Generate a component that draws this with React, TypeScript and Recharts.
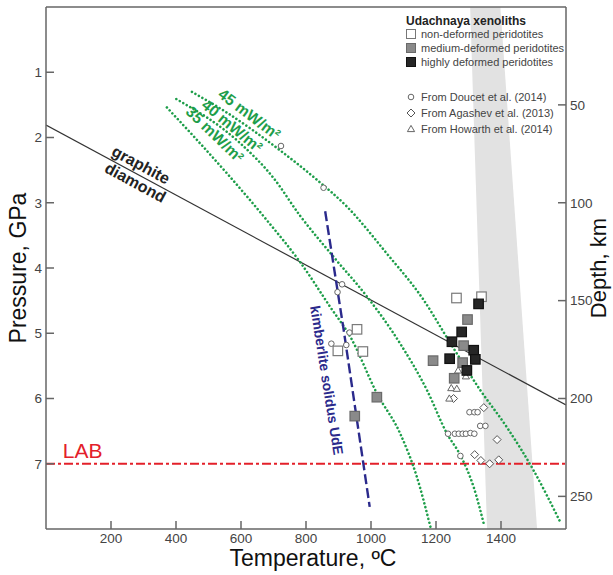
import React from "react";
import {
  ComposedChart,
  XAxis,
  YAxis,
  Line,
  Scatter,
  Area,
  ReferenceLine,
  ReferenceDot,
} from "recharts";

// axis ticks
const tempTicks = [200, 400, 600, 800, 1000, 1200, 1400];
const pressureTicks = [1, 2, 3, 4, 5, 6, 7];
const depthTicks = [50, 100, 150, 200, 250];

// geotherms: [T degC, P GPa]
const geo35: [number, number][] = [
  [372, 1.54], [557, 2.55], [680, 3.27], [782, 3.91], [875, 4.6],
  [937, 5.06], [1018, 5.92], [1090, 6.54], [1141, 7.2], [1183, 7.97],
];
const geo40: [number, number][] = [
  [401, 1.41], [598, 2.09], [700, 2.62], [782, 3.2], [885, 3.83],
  [988, 4.44], [1090, 5.16], [1172, 5.87], [1234, 6.54], [1275, 6.87],
  [1316, 7.36], [1347, 7.92],
];
const geo45: [number, number][] = [
  [449, 1.3], [557, 1.62], [721, 2.2], [834, 2.65], [926, 3.06],
  [1049, 3.78], [1162, 4.49], [1239, 5.11], [1336, 5.87], [1418, 6.44],
  [1500, 7.1], [1582, 7.89],
];
const graphiteDiamond: [number, number][] = [[0, 1.81], [1600, 6.1]];
const kimberliteSolidus: [number, number][] = [[859, 3.13], [916, 4.95], [996, 7.66]];

// grey band (T with pressure range)
const bandT = [1305, 1357, 1398, 1511];
const bandLow = [0, 0, 0, 8];
const bandHigh = [0, 8, 8, 8];

// Udachnaya xenoliths
const nonDeformed: [number, number][] = [
  [1263, 4.46], [1340, 4.44], [957, 4.94], [898, 5.27], [975, 5.28],
];
const mediumDeformed: [number, number][] = [
  [1297, 4.79], [1285, 5.19], [1191, 5.42], [1282, 5.45], [1256, 5.69],
  [1018, 5.98], [950, 6.27],
];
const highlyDeformed: [number, number][] = [
  [1331, 4.55], [1279, 4.98], [1249, 5.13], [1316, 5.26], [1242, 5.39],
  [1321, 5.4], [1295, 5.57],
];
const doucet: [number, number][] = [
  [723, 2.13], [854, 2.77], [911, 4.25], [897, 4.37], [934, 4.99],
  [878, 5.16], [924, 5.18],
  [1303, 6.21], [1318, 6.21], [1328, 6.21], [1336, 6.42], [1352, 6.42],
  [1237, 6.54], [1258, 6.54], [1270, 6.54], [1282, 6.54], [1292, 6.54],
  [1306, 6.53], [1318, 6.54], [1275, 6.88],
];
const agashev: [number, number][] = [
  [1254, 6.0], [1347, 6.14], [1388, 6.63], [1319, 6.86], [1338, 6.95],
  [1365, 7.0], [1393, 6.94],
];
const howarth: [number, number][] = [
  [1268, 5.57], [1292, 5.66], [1247, 5.84], [1264, 5.85], [1241, 6.0],
];

const toPts = (a: [number, number][]) => a.map(([t, p]) => ({ t, p }));
const bandData = bandT.map((t, i) => ({ t, band: [bandLow[i], bandHigh[i]] }));

const FONT = "'Liberation Sans', Arial, Helvetica, sans-serif";
const GREEN = "#1e9e4a";
const NAVY = "#2b2a8c";
const RED = "#e3202a";
const AXIS = "#666";

const square = (fill: string, stroke: string) => (p: any) => (
  <rect x={p.cx - 4.75} y={p.cy - 4.75} width={9.5} height={9.5} fill={fill} stroke={stroke} strokeWidth={1.2} />
);
const circle = (p: any) => <circle cx={p.cx} cy={p.cy} r={2.8} fill="#fff" stroke="#666" strokeWidth={1} />;
const diamond = (p: any) => (
  <polygon
    points={`${p.cx},${p.cy - 4} ${p.cx + 4},${p.cy} ${p.cx},${p.cy + 4} ${p.cx - 4},${p.cy}`}
    fill="#fff" stroke="#555" strokeWidth={1}
  />
);
const triangle = (p: any) => (
  <polygon
    points={`${p.cx},${p.cy - 3.6} ${p.cx + 3.6},${p.cy + 2.6} ${p.cx - 3.6},${p.cy + 2.6}`}
    fill="#fff" stroke="#666" strokeWidth={1}
  />
);

const rotText = (txt: React.ReactNode, angle: number, fill: string, size: number, weight = "bold") => (p: any) => (
  <text
    x={p.cx}
    y={p.cy}
    transform={`rotate(${angle} ${p.cx} ${p.cy})`}
    textAnchor="middle"
    dominantBaseline="central"
    fill={fill}
    fontSize={size}
    fontWeight={weight}
    fontFamily={FONT}
  >
    {txt}
  </text>
);

function LegendBox() {
  const sq = [
    { label: "non-deformed peridotites", fill: "#fff", stroke: "#777", y: 34 },
    { label: "medium-deformed peridotites", fill: "#8a8a8a", stroke: "#6a6a6a", y: 48 },
    { label: "highly deformed peridotites", fill: "#262626", stroke: "#111", y: 62 },
  ];
  const x0 = 411;
  return (
    <svg width={613} height={575} style={{ position: "absolute", left: 0, top: 0, pointerEvents: "none" }}>
      <text x={406} y={25} fontSize={12} fontWeight="bold" fill="#222" fontFamily={FONT}>
        Udachnaya xenoliths
      </text>
      {sq.map((s) => (
        <g key={s.label}>
          <rect x={x0 - 4.5} y={s.y - 4.5} width={9} height={9} fill={s.fill} stroke={s.stroke} strokeWidth={1} />
          <text x={421} y={s.y} dominantBaseline="central" fontSize={11} fill="#444" fontFamily={FONT}>
            {s.label}
          </text>
        </g>
      ))}
      {circle({ cx: x0, cy: 97 })}
      <text x={421} y={97} dominantBaseline="central" fontSize={11} fill="#444" fontFamily={FONT}>
        From Doucet et al. (2014)
      </text>
      {diamond({ cx: x0, cy: 113 })}
      <text x={421} y={113} dominantBaseline="central" fontSize={11} fill="#444" fontFamily={FONT}>
        From Agashev et al. (2013)
      </text>
      {triangle({ cx: x0, cy: 129 })}
      <text x={421} y={129} dominantBaseline="central" fontSize={11} fill="#444" fontFamily={FONT}>
        From Howarth et al. (2014)
      </text>
    </svg>
  );
}

export default function App() {
  const tickStyle = { fontSize: 13.5, fill: "#444", fontFamily: FONT };
  return (
    <div style={{ position: "absolute", left: 0, top: 0, width: 613, height: 575, background: "#fff" }}>
      <ComposedChart width={613} height={575} margin={{ top: 7, right: 0, bottom: 0, left: 0 }}>
        <XAxis
          type="number"
          dataKey="t"
          domain={[0, 1600]}
          ticks={tempTicks}
          allowDataOverflow
          height={46}
          tickSize={-8}
          tickMargin={12}
          stroke={AXIS}
          strokeWidth={1.5}
          tick={tickStyle}
          label={{ value: "Temperature, ºC", position: "center", dx: 7, dy: 6, fontSize: 23, fill: "#111", fontFamily: FONT }}
        />
        <YAxis
          type="number"
          dataKey="p"
          domain={[0, 8]}
          ticks={pressureTicks}
          reversed
          allowDataOverflow
          width={46}
          tickSize={-8}
          tickMargin={12}
          stroke={AXIS}
          strokeWidth={1.5}
          tick={tickStyle}
          label={{ value: "Pressure, GPa", angle: -90, position: "center", dx: -5, fontSize: 23, fill: "#111", fontFamily: FONT }}
        />
        <YAxis
          yAxisId="depth"
          orientation="right"
          type="number"
          domain={[0, 800 / 3]}
          ticks={depthTicks}
          reversed
          allowDataOverflow
          width={47}
          tickSize={-8}
          tickMargin={12}
          stroke={AXIS}
          strokeWidth={1.5}
          tick={tickStyle}
          label={{ value: "Depth, km", angle: -90, position: "center", dx: 9, fontSize: 22, fill: "#111", fontFamily: FONT }}
        />
        <ReferenceLine y={0} stroke={AXIS} strokeWidth={1.5} />

        <Area
          data={bandData}
          dataKey="band"
          type="linear"
          fill="#e2e2e2"
          fillOpacity={1}
          stroke="none"
          isAnimationActive={false}
        />

        <ReferenceLine y={7} stroke={RED} strokeWidth={2} strokeDasharray="9 3 3 3" />

        <Line data={toPts(graphiteDiamond)} dataKey="p" type="linear" stroke="#333" strokeWidth={1.2} dot={false} isAnimationActive={false} />
        {[geo35, geo40, geo45].map((g, i) => (
          <Line
            key={i}
            data={toPts(g)}
            dataKey="p"
            type="monotone"
            stroke={GREEN}
            strokeWidth={2.6}
            strokeDasharray="0.01 4"
            strokeLinecap="round"
            dot={false}
            isAnimationActive={false}
          />
        ))}
        <Line
          data={toPts(kimberliteSolidus)}
          dataKey="p"
          type="linear"
          stroke={NAVY}
          strokeWidth={2.4}
          strokeDasharray="10 4"
          dot={false}
          isAnimationActive={false}
        />

        <Scatter data={toPts(doucet)} shape={circle} isAnimationActive={false} />
        <Scatter data={toPts(agashev)} shape={diamond} isAnimationActive={false} />
        <Scatter data={toPts(howarth)} shape={triangle} isAnimationActive={false} />
        <Scatter data={toPts(nonDeformed)} shape={square("#fff", "#7a7a7a")} isAnimationActive={false} />
        <Scatter data={toPts(mediumDeformed)} shape={square("#8a8a8a", "#6a6a6a")} isAnimationActive={false} />
        <Scatter data={toPts(highlyDeformed)} shape={square("#262626", "#111")} isAnimationActive={false} />

        <ReferenceDot x={292} y={2.42} r={0} shape={rotText("graphite", 28.3, "#222", 16)} />
        <ReferenceDot x={275} y={2.69} r={0} shape={rotText("diamond", 28.3, "#222", 16)} />
        <ReferenceDot x={626} y={1.64} r={0} shape={rotText("45 mW/m²", 37, GREEN, 15.5)} />
        <ReferenceDot x={573} y={1.82} r={0} shape={rotText("40 mW/m²", 39.5, GREEN, 15.5)} />
        <ReferenceDot x={520} y={1.95} r={0} shape={rotText("35 mW/m²", 44, GREEN, 15.5)} />
        <ReferenceDot x={864} y={5.72} r={0} shape={rotText("kimberlite solidus UdE", 81, NAVY, 14)} />
        <ReferenceDot x={113} y={6.8} r={0} shape={rotText("LAB", 0, RED, 21, "normal")} />
      </ComposedChart>
      <LegendBox />
    </div>
  );
}
